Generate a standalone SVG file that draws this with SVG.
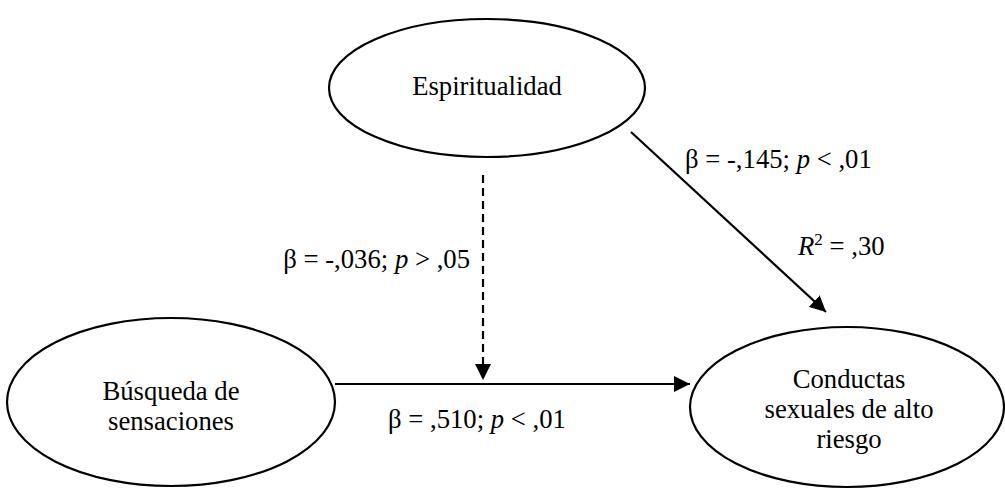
<svg xmlns="http://www.w3.org/2000/svg" width="1005" height="489" viewBox="0 0 1005 489">
<style>
  .node ellipse { fill: #ffffff; stroke: #000000; stroke-width: 2.2; }
  text { font-family: "Liberation Serif", "Times New Roman", serif; font-size: 26.7px; fill: #000000; }
  .c { text-anchor: middle; }
  .edge { stroke: #000000; stroke-width: 2.2; fill: none; }
  .dash { stroke-dasharray: 8 5; }
  .it { font-style: italic; }
</style>
<defs>
  <marker id="arrow" viewBox="0 0 16 16" refX="16" refY="8" markerWidth="16" markerHeight="16" markerUnits="userSpaceOnUse" orient="auto">
    <path d="M0,0 L16,8 L0,16 Z" fill="#000000"/>
  </marker>
</defs>
<rect width="1005" height="489" fill="#ffffff"/>
<g id="connectors">
  <line class="edge" x1="631" y1="132" x2="826" y2="312" marker-end="url(#arrow)"/>
  <line class="edge dash" x1="483" y1="175" x2="483" y2="380" marker-end="url(#arrow)"/>
  <line class="edge" x1="335" y1="384" x2="690" y2="384" marker-end="url(#arrow)"/>
  <text x="685" y="168">β = -,145; <tspan class="it">p</tspan> &lt; ,01</text>
  <text x="798" y="255"><tspan class="it">R</tspan><tspan font-size="17" dy="-10">2</tspan><tspan dy="10"> = ,30</tspan></text>
  <text x="470" y="268" text-anchor="end">β = -,036; <tspan class="it">p</tspan> &gt; ,05</text>
  <text x="388" y="428">β = ,510; <tspan class="it">p</tspan> &lt; ,01</text>
</g>
<g id="espiritualidad" class="node">
  <ellipse cx="487" cy="88" rx="158" ry="69"/>
  <text class="c" x="487" y="95">Espiritualidad</text>
</g>
<g id="busqueda" class="node">
  <ellipse cx="171" cy="402" rx="164" ry="84"/>
  <text class="c" x="171" y="400">Búsqueda de</text>
  <text class="c" x="171" y="430">sensaciones</text>
</g>
<g id="conductas" class="node">
  <ellipse cx="847" cy="407" rx="157" ry="80"/>
  <text class="c" x="849" y="388">Conductas</text>
  <text class="c" x="849" y="418">sexuales de alto</text>
  <text class="c" x="849" y="448">riesgo</text>
</g>
</svg>
